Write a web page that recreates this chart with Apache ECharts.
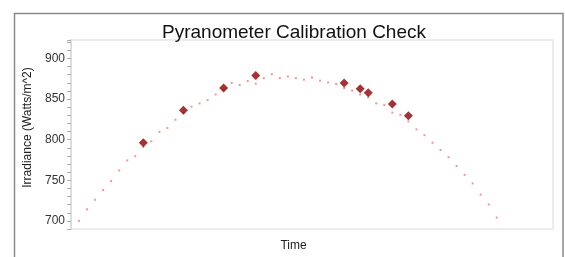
<!DOCTYPE html>
<html>
<head>
<meta charset="utf-8">
<script src="https://cdn.jsdelivr.net/npm/echarts@6/dist/echarts.min.js"></script>
<style>
html,body{margin:0;padding:0;background:#fff;}
#chart{width:565px;height:257px;}
</style>
</head>
<body>
<div id="chart"></div>
<script>
// Sample index along the time axis (one per reading)
var timeSteps = [0,1,2,3,4,5,6,7,8,9,10,11,12,13,14,15,16,17,18,19,20,21,22,23,24,25,26,
  27,28,29,30,31,32,33,34,35,36,37,38,39,40,41,42,43,44,45,46,47,48,49,50,51,52];
// Reference pyranometer readings (small dots)
var referenceIrradiance = [700,714.2,726,738,749,762,774.4,779.6,791,798,809.6,814.4,824.5,833,
  840.6,844.6,848.7,855.6,861,869.7,867.3,872.2,869,875.8,880.6,875.8,877.8,875.8,873.8,876.6,
  872.6,870.5,868.5,863.6,860.4,855.6,852,844.7,842.7,833.3,830.5,822.4,812.7,805.5,796.2,
  787.3,778.4,767.5,756.6,746.1,732.4,720.2,704.1];
// Checked instrument readings (diamonds)
var checkSteps = [8,13,18,22,33,35,36,39,41];
var checkIrradiance = [796.2,836.2,863.7,879,869.7,862.8,857.6,843.9,829.3];
// Labelled y ticks
var yTickLabels = [700,750,800,850,900];

var refData = timeSteps.map(function(t,i){return [t, referenceIrradiance[i]];});
var chkData = checkSteps.map(function(t,i){return [t, checkIrradiance[i]];});

var chart = echarts.init(document.getElementById('chart'));
var font = 'Liberation Sans, Arial, sans-serif';
chart.setOption({
  animation:false,
  backgroundColor:'#fff',
  title:{
    text:'Pyranometer Calibration Check',
    left:289, top:18, textAlign:'center',
    textStyle:{fontFamily:font, fontSize:19, fontWeight:'normal', color:'#111'}
  },
  graphic:[{
    type:'rect', silent:true, z:-1,
    shape:{x:14.5, y:13.5, width:548.5, height:270},
    style:{fill:'none', stroke:'#8a8a8a', lineWidth:1.5}
  }],
  grid:{left:71, right:12, top:40, bottom:25, show:true, borderColor:'#e6e6e6', borderWidth:1.5, backgroundColor:'#fff'},
  xAxis:{
    type:'value', min:-1, max:59,
    name:'Time', nameLocation:'middle', nameGap:11,
    nameTextStyle:{fontFamily:font, fontSize:12, color:'#222', padding:[0,37,0,0]},
    axisLine:{show:false, onZero:false}, axisTick:{show:false}, axisLabel:{show:false}, splitLine:{show:false}
  },
  yAxis:{
    type:'value', min:690, max:922.7, interval:10,
    name:'Irradiance (Watts/m^2)', nameLocation:'middle', nameRotate:90, nameGap:32,
    nameTextStyle:{fontFamily:font, fontSize:12, color:'#222', padding:[0,0,0,14]},
    axisLine:{show:true, onZero:false, lineStyle:{color:'#d8d8d8', width:1.5}},
    axisTick:{show:true, length:4, lineStyle:{color:'#b0b0b0'}},
    axisLabel:{fontFamily:font, fontSize:12, color:'#333', margin:6,
      formatter:function(v){ return yTickLabels.indexOf(Math.round(v*10)/10) >= 0 ? String(v) : ''; }},
    splitLine:{show:false}
  },
  series:[
    {type:'scatter', data:refData, symbol:'rect', symbolSize:2,
     itemStyle:{color:'rgba(225,70,70,0.7)'}, z:2},
    {type:'scatter', data:chkData, symbol:'diamond', symbolSize:[9,9],
     itemStyle:{color:'#8e0000'}, z:3}
  ]
});
</script>
</body>
</html>
